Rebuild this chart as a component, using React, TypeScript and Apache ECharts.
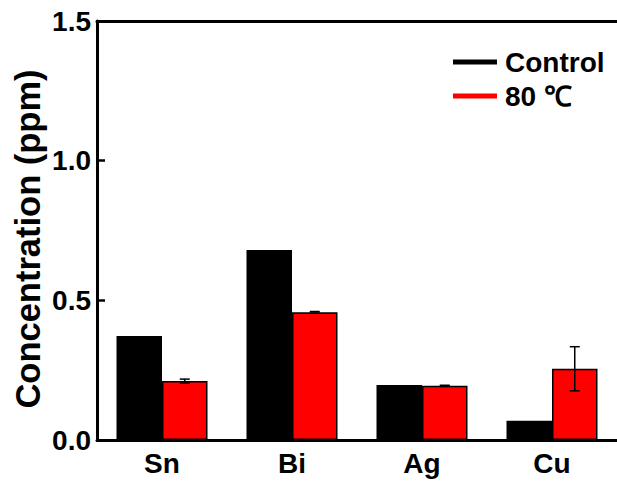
import React, { useEffect, useRef } from "react";
import * as echarts from "echarts";

const categories = ["Sn", "Bi", "Ag", "Cu"];
const controlValues = [0.372, 0.68, 0.197, 0.069];
const heatedValues = [0.211, 0.457, 0.194, 0.255];
const heatedErrors = [0.007, 0.003, 0.002, 0.079];
const yTicks = [0, 0.5, 1.0, 1.5];
const seriesNames = ["Control", "80 \u2103"];

const FONT = '"Liberation Sans", Arial, sans-serif';
const BAR_FRAC = 0.35;

export default function App() {
  const ref = useRef<HTMLDivElement>(null);

  useEffect(() => {
    if (!ref.current) return;
    const chart = echarts.init(ref.current, null, { renderer: "svg" });
    const errData = heatedValues.map((v, i) => [i, v, heatedErrors[i]]);
    chart.setOption({
      animation: false,
      backgroundColor: "#fff",
      grid: {
        left: 97,
        right: -3,
        top: 21,
        bottom: 48,
        show: false,
      },
      legend: {
        data: seriesNames,
        orient: "vertical",
        left: 448,
        top: 43,
        icon: "rect",
        itemWidth: 44,
        itemHeight: 5,
        itemGap: 6,
        itemStyle: { borderWidth: 0 },
        textStyle: {
          fontFamily: FONT,
          fontWeight: "bold",
          fontSize: 28,
          lineHeight: 28,
          color: "#000",
          padding: [0, 0, 0, 3],
        },
      },
      xAxis: [
        {
          type: "category",
          data: categories,
          axisLine: { lineStyle: { color: "#000", width: 3 } },
          axisTick: { show: false },
          axisLabel: {
            fontFamily: FONT,
            fontWeight: "bold",
            fontSize: 28,
            color: "#000",
            margin: 9,
          },
        },
        {
          type: "category",
          data: categories,
          position: "top",
          axisLine: { show: true, lineStyle: { color: "#000", width: 3 } },
          axisTick: { show: false },
          axisLabel: { show: false },
        },
      ],
      yAxis: {
        type: "value",
        min: yTicks[0],
        max: yTicks[yTicks.length - 1],
        interval: 0.5,
        splitLine: { show: false },
        axisLine: { show: true, lineStyle: { color: "#000", width: 3 } },
        axisTick: {
          show: true,
          inside: true,
          length: 8,
          lineStyle: { color: "#000", width: 2.5 },
        },
        axisLabel: {
          fontFamily: FONT,
          fontWeight: "bold",
          fontSize: 28,
          color: "#000",
          margin: 6,
          formatter: (v: number) => v.toFixed(1),
        },
      },
      graphic: [
        {
          type: "text",
          x: 28,
          y: 239,
          rotation: Math.PI / 2,
          style: {
            text: "Concentration (ppm)",
            fontFamily: FONT,
            fontWeight: "bold",
            fontSize: 34.5,
            fill: "#000",
            align: "center",
            verticalAlign: "middle",
          },
        },
      ],
      series: [
        {
          name: seriesNames[0],
          type: "bar",
          data: controlValues,
          barWidth: BAR_FRAC * 100 + "%",
          barGap: "0%",
          itemStyle: { color: "#000", borderColor: "#000", borderWidth: 1.5 },
        },
        {
          name: seriesNames[1],
          type: "bar",
          data: heatedValues,
          barWidth: BAR_FRAC * 100 + "%",
          barGap: "0%",
          itemStyle: { color: "#ff0000", borderColor: "#000", borderWidth: 1.5 },
        },
        {
          type: "custom",
          data: errData,
          encode: { x: 0, y: 1 },
          z: 10,
          silent: true,
          renderItem: (params: any, api: any) => {
            const idx = api.value(0);
            const val = api.value(1);
            const err = api.value(2);
            const center = api.coord([idx, val]);
            const band = api.size([1, 0])[0];
            const x = center[0] + (band * BAR_FRAC) / 2;
            const top = api.coord([idx, val + err])[1];
            const bot = api.coord([idx, val - err])[1];
            const cap = 5;
            const style = { stroke: "#000", lineWidth: 1.5 };
            return {
              type: "group",
              children: [
                { type: "line", shape: { x1: x, y1: top, x2: x, y2: bot }, style },
                { type: "line", shape: { x1: x - cap, y1: top, x2: x + cap, y2: top }, style },
                { type: "line", shape: { x1: x - cap, y1: bot, x2: x + cap, y2: bot }, style },
              ],
            };
          },
        },
      ],
    });
    return () => chart.dispose();
  }, []);

  return (
    <div
      ref={ref}
      style={{ position: "absolute", left: 0, top: 0, width: 617, height: 488 }}
    />
  );
}
